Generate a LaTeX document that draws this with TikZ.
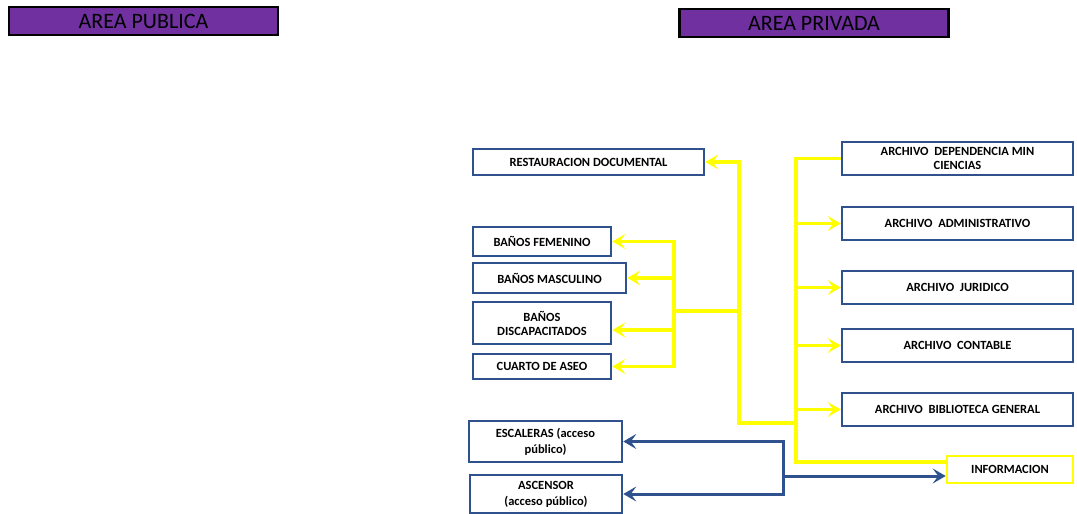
\documentclass[tikz,border=0pt]{standalone}
\usepackage{fontspec}
\setmainfont{Carlito}
\usetikzlibrary{arrows.meta,calc}
\definecolor{boxblue}{RGB}{47,82,143}
\definecolor{hdrpurple}{RGB}{112,48,160}
\definecolor{ylw}{RGB}{255,255,0}
\tikzset{
  hdr/.style={draw=black,line width=2.2pt,fill=hdrpurple,minimum width=269pt,minimum height=28pt,inner sep=0pt,font=\fontsize{22}{24}\selectfont,text=black},
  bbox/.style={draw=boxblue,line width=2.6pt,fill=white,inner sep=0pt,align=center,font=\bfseries\fontsize{12.5}{14}\selectfont},
  ybox/.style={bbox,draw=ylw},
  yline/.style={draw=ylw,line width=3.4pt},
  yarrow/.style={yline,-{Stealth[length=13pt,width=15pt,inset=5.5pt]}},
  barrow/.style={draw=boxblue,line width=3pt,-{Stealth[length=13pt,width=15pt,inset=5.5pt]}}
}
\begin{document}
\begin{tikzpicture}[x=1pt,y=-1pt]
\useasboundingbox (0,0) rectangle (1077,514);
% headers
\node[hdr] (pub) at (143.5,21) {AREA PUBLICA};
\node[hdr] (priv) at (814,23) {AREA PRIVADA};
% left boxes
\node[bbox,minimum width=231pt,minimum height=26pt] (rest) at (588.5,162) {RESTAURACION DOCUMENTAL};
\node[bbox,minimum width=138pt,minimum height=29pt] (fem) at (542,241.5) {BAÑOS FEMENINO};
\node[bbox,minimum width=153pt,minimum height=30pt] (masc) at (549.5,278) {BAÑOS MASCULINO};
\node[bbox,minimum width=138pt,minimum height=42pt] (disc) at (542,323) {BAÑOS\\DISCAPACITADOS};
\node[bbox,minimum width=138pt,minimum height=25pt] (aseo) at (542,366.5) {CUARTO DE ASEO};
\node[bbox,minimum width=153pt,minimum height=41pt,font=\bfseries\fontsize{12.5}{16}\selectfont] (esc) at (545.5,441.5) {ESCALERAS (acceso\\público)};
\node[bbox,minimum width=152pt,minimum height=38pt,font=\bfseries\fontsize{12.5}{16}\selectfont] (asc) at (546,494) {ASCENSOR\\(acceso público)};
% right boxes
\node[bbox,minimum width=231pt,minimum height=33pt] (dep) at (957.5,158.5) {ARCHIVO\ \ DEPENDENCIA MIN\\CIENCIAS};
\node[bbox,minimum width=231pt,minimum height=33pt] (adm) at (957.5,223.5) {ARCHIVO\ \ ADMINISTRATIVO};
\node[bbox,minimum width=231pt,minimum height=33pt] (jur) at (957.5,287.5) {ARCHIVO\ \ JURIDICO};
\node[bbox,minimum width=231pt,minimum height=33pt] (cont) at (957.5,345.5) {ARCHIVO\ \ CONTABLE};
\node[bbox,minimum width=231pt,minimum height=33pt] (bib) at (957.5,409.5) {ARCHIVO\ \ BIBLIOTECA GENERAL};
\node[ybox,minimum width=126pt,minimum height=27pt] (info) at (1010,469.5) {INFORMACION};
% yellow connectors
\coordinate (trunk) at (796,0);
\coordinate (ya) at (796,423);
\coordinate (yb) at (739,423);
\coordinate (yc) at (739,311);
\coordinate (yd) at (674,311);
\draw[yline] (dep.west) -- (dep.west -| trunk) -- ($(info.west -| trunk)+(0,-7.5)$) -- ($(info.west)+(0,-7.5)$);
\draw[yarrow] (adm.west -| trunk) -- (adm.west);
\draw[yarrow] (jur.west -| trunk) -- (jur.west);
\draw[yarrow] (cont.west -| trunk) -- (cont.west);
\draw[yarrow] (bib.west -| trunk) -- (bib.west);
\draw[yarrow] (ya) -- (yb) |- (rest.east);
\draw[yline] (yc) -- (yd);
\draw[yline] ($(yd |- fem.east)+(0,-1.7)$) -- ($(yd |- aseo.east)+(0,1.7)$);
\draw[yarrow] (yd |- fem.east) -- (fem.east);
\draw[yarrow] (yd |- masc.east) -- (masc.east);
\draw[yarrow] ($(yd |- disc.east)+(0,7)$) -- ($(disc.east)+(0,7)$);
\draw[yarrow] (yd |- aseo.east) -- (aseo.east);
% blue connectors
\coordinate (bj) at (783,476);
\draw[barrow] (bj) -- (bj -| info.west);
\draw[barrow] (bj) |- (esc.east);
\draw[barrow] (bj) |- (asc.east);
\end{tikzpicture}
\end{document}
